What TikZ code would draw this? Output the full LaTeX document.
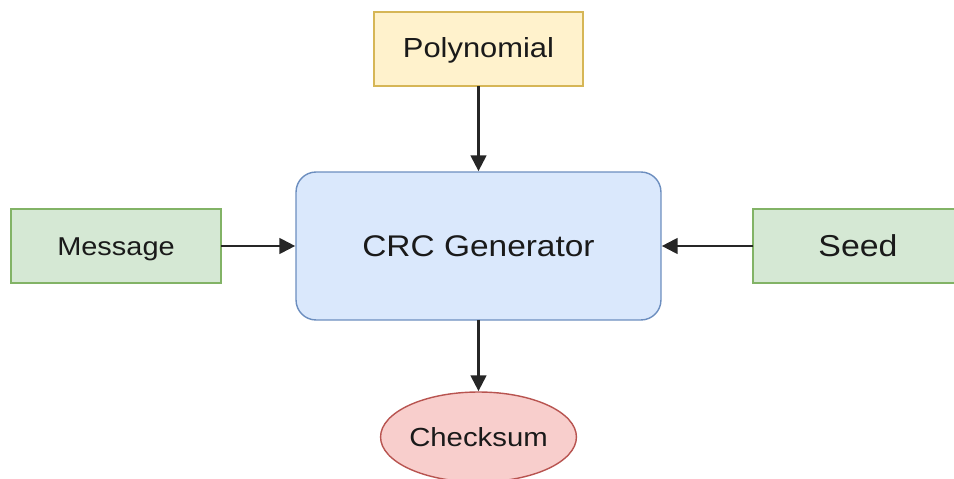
\documentclass[tikz,border=0pt]{standalone}
\usepackage{fontspec}
\setmainfont{Liberation Sans}[FakeStretch=1.12]
\usepackage{xcolor}
\usetikzlibrary{shapes.geometric,arrows.meta}
\definecolor{yellowfill}{HTML}{FFF2CC}
\definecolor{yellowline}{HTML}{D6B656}
\definecolor{bluefill}{HTML}{DAE8FC}
\definecolor{blueline}{HTML}{6C8EBF}
\definecolor{greenfill}{HTML}{D5E8D4}
\definecolor{greenline}{HTML}{82B366}
\definecolor{redfill}{HTML}{F8CECC}
\definecolor{redline}{HTML}{B85450}
\definecolor{textgray}{HTML}{1A1A1A}
\tikzset{
    plain-box/.style = {rectangle, line width=0.8pt, inner sep=0pt, outer sep=0pt, text=textgray, text depth=0pt},
    input-box/.style = {plain-box, draw=greenline, fill=greenfill, minimum width=4.2cm, minimum height=1.48cm},
    poly-box/.style = {plain-box, draw=yellowline, fill=yellowfill, minimum width=4.18cm, minimum height=1.48cm},
    gen-box/.style = {plain-box, draw=blueline, fill=bluefill, rounded corners=0.4cm, minimum width=7.3cm, minimum height=2.96cm},
    out-ellipse/.style = {ellipse, line width=0.8pt, inner sep=0pt, outer sep=0pt, text=textgray, text depth=0pt, draw=redline, fill=redfill, minimum width=3.76cm, minimum height=1.8cm},
    flow-arrow/.style = {-{Triangle[length=9pt,width=9pt]}, line width=1.2pt, draw=black!85, shorten >=0.5pt},
}
\begin{document}
\begin{tikzpicture}[x=0.02cm, y=-0.02cm]
\useasboundingbox (0,0) rectangle (954,479);
\node [poly-box, font=\fontsize{15.7}{18}\selectfont, text height=11.2pt, text depth=1.6pt] (poly) at (478.5,49) {Polynomial};
\node [gen-box, font=\fontsize{17}{20}\selectfont, text height=12.2pt] (gen) at (478.5,246) {CRC Generator};
\node [input-box, font=\fontsize{14.7}{18}\selectfont, text height=10.5pt] (msg) at (116,246) {Message};
\node [input-box, font=\fontsize{17.2}{20}\selectfont, text height=12.3pt] (seed) at (858,246) {Seed};
\node [out-ellipse, font=\fontsize{14.9}{18}\selectfont, text height=10.7pt] (sum) at (478.5,437) {Checksum};
\draw [flow-arrow] (poly) -- (gen);
\draw [flow-arrow] (msg) -- (gen);
\draw [flow-arrow] (seed) -- (gen);
\draw [flow-arrow] (gen) -- (sum);
\end{tikzpicture}
\end{document}
